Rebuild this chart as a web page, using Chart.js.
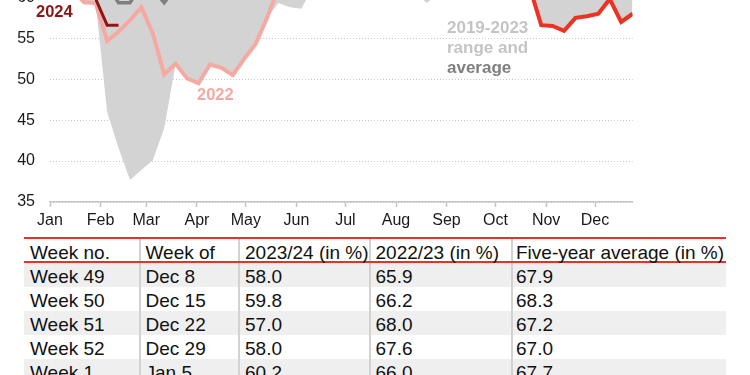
<!DOCTYPE html>
<html>
<head>
<meta charset="utf-8">
<script src="https://cdn.jsdelivr.net/npm/chart.js@4.4.1/dist/chart.umd.min.js"></script>
<style>
  html, body { margin: 0; padding: 0; background: #fff; }
  body { width: 750px; height: 375px; overflow: hidden; position: relative;
         font-family: "Liberation Sans", Arial, sans-serif; color: #111; }
  #wrap { position: absolute; left: 0; top: -150px; width: 750px; height: 382px; }
  .lbl { position: absolute; font-weight: bold; line-height: 1; white-space: nowrap; }
  .hl { position: absolute; left: 24px; width: 702px; height: 2px; background: #e8312a; }
  .row { position: absolute; left: 24px; width: 702px; height: 24px; }
  .row.g { background: #efefef; }
  .sep { position: absolute; top: 239px; width: 2px; height: 140px; background: #d2d2d2; }
  .cell { position: absolute; font-size: 19px; line-height: 24px; white-space: nowrap; }
</style>
</head>
<body>
<div id="wrap"><canvas id="grafico" width="750" height="382"></canvas></div>

<div class="lbl" style="left:36px;top:2.7px;font-size:16.5px;color:#8c1616">2024</div>
<div class="lbl" style="left:197px;top:86px;font-size:16.5px;color:#f6a9a2">2022</div>
<div class="lbl" style="left:447px;top:18.6px;font-size:17px;color:#c4c4c4">2019-2023</div>
<div class="lbl" style="left:447px;top:38.6px;font-size:17px;color:#c4c4c4">range and</div>
<div class="lbl" style="left:447px;top:58.6px;font-size:17px;color:#7f7f7f">average</div>

<div id="tabela"></div>

<script>
/* ================= DADOS ================= */
const weekNo = [1, 2, 3, 4, 5, 6, 7, 8, 9, 10, 11, 12, 13, 14, 15, 16, 17, 18, 19, 20,
  21, 22, 23, 24, 25, 26, 27, 28, 29, 30, 31, 32, 33, 34, 35, 36, 37, 38, 39, 40,
  41, 42, 43, 44, 45, 46, 47, 48, 49, 50, 51, 52];

const monthLabels = ["Jan", "Feb", "Mar", "Apr", "May", "Jun", "Jul", "Aug", "Sep", "Oct", "Nov", "Dec"];
const monthTickPos = [1, 5.43, 9.43, 13.86, 18.14, 22.57, 26.86, 31.29, 35.71, 40, 44.43, 48.71];
const yTicks = [35, 40, 45, 50, 55, 60, 65, 70, 75];

// 2019-2023 range (low / high) and five-year average
const rangeLow = [62.0, 61.6, 60.8, 59.4, 59.3, 46.0, 41.6, 37.7, 38.9, 40.1,
  44.0, 51.9, 50.1, 49.5, 51.8, 51.4, 50.5, 52.5, 54.3, 57.5,
  59.3, 58.8, 58.6, 61.2, 62.0, 62.5, 62.0, 61.5, 61.0, 61.2,
  61.0, 60.6, 60.4, 59.3, 60.5, 61.0, 61.8, 62.4, 63.0, 63.2,
  62.6, 62.0, 61.2, 56.6, 56.5, 55.9, 57.5, 57.7, 58.0, 59.8, 57.0, 58.0];
const rangeHigh = [74.5, 74.0, 73.5, 73.0, 72.5, 72.0, 71.5, 71.8, 72.2, 72.8,
  73.4, 74.0, 74.5, 75.0, 75.5, 76.0, 76.4, 76.8, 77.2, 77.5,
  77.8, 78.0, 78.2, 78.0, 77.8, 77.5, 77.2, 76.8, 76.4, 76.0,
  75.6, 75.2, 74.8, 74.4, 74.0, 73.8, 73.6, 73.5, 73.4, 73.4,
  73.5, 73.6, 73.8, 74.0, 74.2, 74.4, 74.6, 74.8, 75.0, 75.2, 75.0, 74.8];
const avg5 = [67.7, 67.0, 66.0, 64.5, 63.0, 61.5, 59.35, 59.35, 61.5, 61.0,
  59.35, 61.2, 62.0, 62.6, 63.4, 64.0, 64.8, 65.6, 66.5, 67.3,
  68.0, 68.6, 69.0, 69.3, 69.5, 69.6, 69.4, 69.0, 68.6, 68.2,
  67.8, 67.4, 67.0, 66.6, 66.8, 67.0, 67.4, 67.8, 68.2, 68.5,
  68.6, 68.4, 68.0, 67.6, 67.4, 67.3, 67.5, 67.7, 67.9, 68.3, 67.2, 67.0];

const y2022 = [63.8, 62.6, 60.8, 59.4, 59.3, 54.7, 55.8, 57.2, 58.8, 55.6,
  50.6, 51.9, 50.1, 49.5, 51.8, 51.4, 50.5, 52.5, 54.3, 57.5,
  61.2, 63.5, 64.8, 65.5, 66.2, 66.0, 65.4, 64.8, 64.0, 63.6,
  63.2, 62.8, 62.4, 62.0, 62.5, 63.0, 63.6, 64.2, 64.8, 65.5,
  66.0, 66.4, 66.8, 66.5, 66.2, 65.8, 65.5, 65.6, 65.9, 66.2, 68.0, 67.6];
const y2023 = [66.0, 65.6, 65.0, 64.3, 63.6, 63.0, 62.6, 62.9, 63.5, 64.1,
  64.8, 65.4, 66.0, 66.7, 67.3, 67.9, 68.4, 69.0, 69.5, 69.9,
  70.2, 70.4, 70.5, 70.3, 70.0, 69.6, 69.1, 68.6, 68.0, 67.5,
  67.0, 66.6, 66.2, 65.9, 65.7, 65.5, 65.3, 65.0, 64.6, 64.0,
  63.2, 62.3, 61.2, 56.6, 56.5, 55.9, 57.5, 57.7, 58.0, 59.8, 57.0, 58.0];
const y2024 = [60.2, 60.8, 61.0, 60.7, 59.8, 56.6, 56.6];

// tabela
const tabHeader = ["Week no.", "Week of", "2023/24 (in %)", "2022/23 (in %)", "Five-year average (in %)"];
const tabWeek = ["Week 49", "Week 50", "Week 51", "Week 52", "Week 1"];
const tabWeekOf = ["Dec 8", "Dec 15", "Dec 22", "Dec 29", "Jan 5"];
const tab2324 = ["58.0", "59.8", "57.0", "58.0", "60.2"];
const tab2223 = ["65.9", "66.2", "68.0", "67.6", "66.0"];
const tabAvg = ["67.9", "68.3", "67.2", "67.0", "67.7"];

/* ================= GRÁFICO ================= */
function pts(vals) {
  return vals.map((v, i) => ({ x: weekNo[i], y: v }));
}

Chart.defaults.font.family = "'Liberation Sans', Arial, sans-serif";
Chart.defaults.devicePixelRatio = 1;

const linha = { pointRadius: 0, pointHoverRadius: 0, tension: 0, fill: false, borderJoinStyle: "miter" };

new Chart(document.getElementById("grafico"), {
  type: "line",
  data: {
    datasets: [
      { ...linha, label: "2024", data: pts(y2024), borderColor: "#8c1616", borderWidth: 3 },
      { ...linha, label: "2023", data: pts(y2023), borderColor: "#ea3323", borderWidth: 4 },
      { ...linha, label: "2022", data: pts(y2022), borderColor: "#f6a9a2", borderWidth: 4 },
      { ...linha, label: "average", data: pts(avg5), borderColor: "#7f7f7f", borderWidth: 3.5 },
      { ...linha, label: "high", data: pts(rangeHigh), borderWidth: 0, borderColor: "rgba(0,0,0,0)",
        fill: "+1", backgroundColor: "#d3d3d3" },
      { ...linha, label: "low", data: pts(rangeLow), borderWidth: 0, borderColor: "rgba(0,0,0,0)" }
    ]
  },
  options: {
    responsive: false,
    animation: false,
    layout: { padding: { top: 21.2, left: 0, right: 117.4, bottom: 0 } },
    plugins: { legend: { display: false }, tooltip: { enabled: false } },
    scales: {
      x: {
        type: "linear",
        min: 1,
        max: 52,
        afterFit: (s) => { s.height = 30; },
        afterBuildTicks: (s) => { s.ticks = monthTickPos.map(v => ({ value: v })); },
        ticks: {
          autoSkip: false, maxRotation: 0, minRotation: 0, padding: 4,
          color: "#1a1a1a", font: { size: 16 },
          callback: (v) => monthLabels[monthTickPos.indexOf(v)]
        },
        grid: { drawOnChartArea: false, drawTicks: true, tickLength: 5, tickColor: "#c4c4c4", tickWidth: 1.5 },
        border: { display: true, color: "#c4c4c4", width: 1.5 }
      },
      y: {
        min: 35,
        max: 75,
        afterFit: (s) => { s.width = 50; },
        afterBuildTicks: (s) => { s.ticks = yTicks.map(v => ({ value: v })); },
        ticks: { padding: 15, color: "#1a1a1a", font: { size: 16 } },
        grid: { drawTicks: false, color: "#c8c8c8", lineWidth: 1 },
        border: { display: false, dash: [1, 2] }
      }
    }
  }
});

/* ================= TABELA ================= */
const tabela = document.getElementById("tabela");
const colX = [30, 145.5, 245, 375.5, 516];
const sepX = [139, 238, 369, 510.5];
let html = "";
for (let i = 0; i < tabWeek.length; i++) {
  html += `<div class="row${i % 2 === 0 ? " g" : ""}" style="top:${263 + 24 * i}px"></div>`;
}
sepX.forEach(x => { html += `<div class="sep" style="left:${x}px"></div>`; });
html += `<div class="hl" style="top:237px"></div><div class="hl" style="top:261px"></div>`;
tabHeader.forEach((t, c) => {
  html += `<div class="cell" style="left:${colX[c]}px;top:241.4px">${t}</div>`;
});
const colunas = [tabWeek, tabWeekOf, tab2324, tab2223, tabAvg];
for (let i = 0; i < tabWeek.length; i++) {
  colunas.forEach((col, c) => {
    html += `<div class="cell" style="left:${colX[c]}px;top:${265 + 24 * i}px">${col[i]}</div>`;
  });
}
tabela.innerHTML = html;
</script>
</body>
</html>
